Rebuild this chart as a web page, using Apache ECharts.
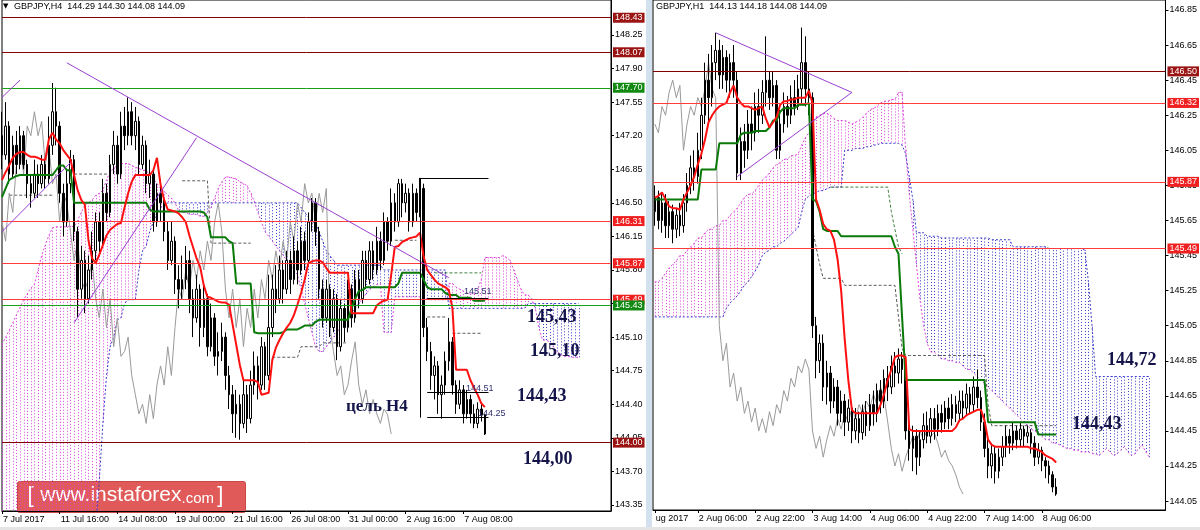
<!DOCTYPE html>
<html>
<head>
<meta charset="utf-8">
<script src="https://cdn.jsdelivr.net/npm/echarts@6/dist/echarts.min.js"></script>
<style>
html, body { margin: 0; padding: 0; background: #fff; }
#chart { width: 1200px; height: 530px; }
</style>
</head>
<body>
<div id="chart"></div>
<script>
// ---------- H4 panel (left) ----------
const leftDates = ['7 Jul 2017', '11 Jul 16:00', '14 Jul 08:00', '19 Jul 00:00', '21 Jul 16:00',
  '26 Jul 08:00', '31 Jul 00:00', '2 Aug 16:00', '7 Aug 08:00'];
const leftTicks = [143.35, 143.70, 144.05, 144.40, 144.75, 145.10, 145.45, 145.80, 146.15, 146.50,
  146.85, 147.20, 147.55, 147.90, 148.25];
// [open, close, low, high]
const leftOhlc = [
  [147.20,147.00,146.85,147.45],[147.00,147.30,146.95,147.55],[147.30,146.80,146.70,147.35],[146.80,147.10,146.75,147.20],
  [147.10,146.90,146.80,147.25],[146.90,147.20,146.85,147.30],[147.20,146.90,146.85,147.25],[146.90,146.70,146.55,146.95],
  [146.70,146.60,146.45,146.80],[146.60,146.80,146.55,146.95],[146.80,146.70,146.55,146.90],[146.70,146.90,146.65,147.00],
  [146.90,146.75,146.65,146.95],[146.75,147.10,146.70,147.40],[147.10,147.45,147.00,147.75],[147.45,147.30,147.10,147.70],
  [147.30,146.60,146.50,147.35],[146.60,146.30,146.15,146.70],[146.30,146.70,146.25,146.85],[146.70,146.95,146.60,147.05],
  [146.95,146.20,146.10,147.00],[146.20,145.60,145.30,146.25],[145.60,145.90,145.50,146.05],[145.90,145.50,145.35,146.00],
  [145.50,145.80,145.45,145.95],[145.80,146.00,145.70,146.20],[146.00,146.30,145.90,146.40],[146.30,146.10,145.95,146.40],
  [146.10,146.60,146.05,146.75],[146.60,146.40,146.30,146.70],[146.40,146.90,146.35,147.00],[146.90,147.10,146.80,147.25],
  [147.10,146.80,146.70,147.20],[146.80,147.30,146.75,147.45],[147.30,147.20,147.05,147.50],[147.20,147.45,147.10,147.60],
  [147.45,147.20,147.10,147.55],[147.20,147.35,147.05,147.50],[147.35,146.90,146.80,147.40],[146.90,147.10,146.85,147.20],
  [147.10,146.70,146.60,147.15],[146.70,146.80,146.55,146.95],[146.80,146.30,146.20,146.85],[146.30,146.60,146.25,146.70],
  [146.60,146.50,146.30,146.75],[146.50,146.20,146.10,146.55],[146.20,145.90,145.80,146.30],[145.90,146.10,145.85,146.30],
  [146.10,145.70,145.55,146.15],[145.70,145.60,145.40,145.85],[145.60,145.70,145.50,145.95],[145.70,145.90,145.60,146.05],
  [145.90,145.50,145.35,146.00],[145.50,145.30,145.10,145.60],[145.30,145.60,145.25,145.75],[145.60,145.20,145.00,145.65],
  [145.20,145.50,145.10,145.65],[145.50,145.00,144.90,145.55],[145.00,145.30,144.95,145.45],[145.30,144.90,144.80,145.35],
  [144.90,144.95,144.70,145.15],[144.95,145.10,144.85,145.25],[145.10,144.70,144.55,145.15],[144.70,144.50,144.35,144.80],
  [144.50,144.30,144.10,144.60],[144.30,144.40,144.05,144.55],[144.40,144.20,144.03,144.50],[144.20,144.50,144.15,144.65],
  [144.50,144.25,144.10,144.60],[144.25,144.60,144.20,144.75],[144.60,144.80,144.50,144.95],[144.80,144.60,144.45,144.90],
  [144.60,145.00,144.55,145.10],[145.00,144.70,144.55,145.05],[144.70,145.20,144.65,145.75],[145.20,145.60,145.10,145.75],
  [145.60,145.50,145.35,145.85],[145.50,145.80,145.45,145.95],[145.80,145.60,145.45,145.90],[145.60,145.90,145.55,146.00],
  [145.90,145.70,145.55,146.00],[145.70,146.00,145.65,146.15],[146.00,145.80,145.65,146.10],[145.80,146.10,145.75,146.25],
  [146.10,145.90,145.80,146.20],[145.90,146.30,145.85,146.40],[146.30,146.50,146.20,146.55],[146.50,146.20,146.05,146.55],
  [146.20,145.60,145.50,146.25],[145.60,145.30,145.20,145.70],[145.30,145.60,145.25,145.70],[145.60,145.20,145.10,145.65],
  [145.20,145.50,145.15,145.60],[145.50,145.00,144.86,145.55],[145.00,145.40,144.95,145.50],[145.40,145.20,145.05,145.45],
  [145.20,145.60,145.15,145.70],[145.60,145.30,145.20,145.65],[145.30,145.70,145.25,145.80],[145.70,145.50,145.40,145.80],
  [145.50,145.90,145.45,146.00],[145.90,145.70,145.60,146.00],[145.70,146.00,145.65,146.10],[146.00,145.80,145.70,146.10],
  [145.80,146.10,145.75,146.25],[146.10,145.90,145.80,146.20],[145.90,146.30,145.85,146.40],[146.30,146.10,146.00,146.35],
  [146.10,146.50,146.05,146.65],[146.50,146.30,146.20,146.60],[146.30,146.70,146.25,146.75],[146.70,146.50,146.35,146.75],
  [146.50,146.60,146.40,146.70],[146.60,146.30,146.20,146.65],[146.30,146.60,146.25,146.70],[146.60,146.40,146.30,146.65],
  [146.40,146.65,146.35,146.76],[146.65,145.20,145.10,146.70],[145.20,144.95,144.85,145.30],[144.95,144.70,144.55,145.05],
  [144.70,144.80,144.45,144.90],[144.80,144.50,144.30,144.85],[144.50,144.60,144.25,144.70],[144.60,144.85,144.50,144.95],
  [144.85,145.05,144.75,145.30],[145.05,144.60,144.50,145.10],[144.60,144.40,144.30,144.65],[144.40,144.55,144.35,144.65],
  [144.55,144.30,144.20,144.60],[144.30,144.45,144.25,144.55],[144.45,144.30,144.20,144.50],[144.30,144.20,144.15,144.40],
  [144.20,144.35,144.15,144.42],[144.35,144.29,144.22,144.40],[144.29,144.09,144.08,144.30]
];
const leftTenkan = [
  146.74,146.82,146.89,146.97,147.01,147.03,147.03,147.00,146.98,146.98,
  146.97,146.95,146.95,147.16,147.23,147.16,147.12,147.05,147.00,146.95,
  146.79,146.63,146.53,146.48,146.11,145.92,145.87,145.96,146.06,146.16,
  146.22,146.25,146.28,146.29,146.45,146.60,146.72,146.79,146.79,146.79,
  146.79,146.79,146.84,146.97,146.69,146.53,146.43,146.42,146.41,146.39,
  146.35,146.30,146.16,146.04,145.92,145.83,145.64,145.52,145.51,145.49,
  145.47,145.46,145.46,145.44,145.23,145.02,144.81,144.65,144.65,144.65,
  144.65,144.63,144.50,144.51,144.52,144.86,144.99,145.07,145.14,145.20,
  145.25,145.33,145.44,145.56,145.70,145.87,145.89,145.90,145.90,145.88,
  145.82,145.77,145.77,145.77,145.77,145.77,145.77,145.35,145.35,145.35,
  145.35,145.35,145.35,145.35,145.43,145.46,145.48,145.49,145.75,146.04,
  146.05,146.09,146.11,146.13,146.14,146.15,146.19,145.94,145.80,145.75,
  145.70,145.66,145.64,145.62,145.59,145.40,144.76,144.76,144.76,144.76,
  144.65,144.57,144.50,144.41,144.37
];
const leftKijun = [
  146.56,146.65,146.74,146.76,146.78,146.79,146.79,146.79,146.79,146.79,
  146.79,146.79,146.79,146.79,146.79,146.84,146.89,146.89,146.84,146.84,
  146.50,146.50,146.50,146.50,146.50,146.50,146.50,146.50,146.50,146.50,
  146.50,146.50,146.50,146.50,146.50,146.50,146.50,146.50,146.50,146.50,
  146.50,146.43,146.41,146.41,146.41,146.41,146.41,146.41,146.41,146.41,
  146.41,146.41,146.41,146.41,146.41,146.41,146.40,146.35,146.14,146.14,
  146.14,146.14,146.14,146.10,146.08,145.66,145.66,145.66,145.66,145.66,
  145.15,145.14,145.14,145.14,145.14,145.14,145.14,145.14,145.15,145.18,
  145.18,145.18,145.18,145.20,145.22,145.22,145.22,145.26,145.28,145.28,
  145.28,145.28,145.28,145.28,145.28,145.28,145.28,145.40,145.50,145.58,
  145.59,145.62,145.62,145.62,145.62,145.62,145.62,145.62,145.62,145.62,
  145.66,145.77,145.77,145.77,145.77,145.77,145.77,145.70,145.62,145.60,
  145.60,145.60,145.60,145.56,145.54,145.54,145.54,145.51,145.51,145.51,
  145.51,145.48,145.48,145.48,145.48
];
const leftSpanA = [
  145.02,145.10,145.17,145.25,145.33,145.41,145.49,145.55,145.61,145.65,
  145.80,145.95,146.06,146.16,146.24,146.25,146.25,146.25,146.25,146.26,
  146.25,146.32,146.40,146.48,146.50,146.53,146.58,146.60,146.63,146.74,
  146.82,146.86,146.89,146.91,146.91,146.91,146.89,146.87,146.86,146.84,
  146.84,146.79,146.75,146.70,146.65,146.62,146.58,146.55,146.50,146.42,
  146.40,146.40,146.38,146.38,146.38,146.36,146.36,146.40,146.45,146.55,
  146.65,146.72,146.77,146.77,146.76,146.75,146.72,146.70,146.68,146.60,
  146.52,146.40,146.30,146.20,146.15,146.10,146.05,146.00,145.95,145.90,
  145.85,145.80,145.75,145.60,145.45,145.30,145.15,145.00,144.95,144.95,
  145.00,145.05,145.10,145.15,145.20,145.25,145.30,145.35,145.40,145.45,
  145.50,145.55,145.60,145.62,145.65,145.66,145.15,145.15,145.15,145.52,
  145.52,145.52,145.52,145.52,145.52,145.52,145.52,145.50,145.50,145.49,
  145.49,145.49,145.49,145.49,145.66,145.66,145.62,145.60,145.58,145.56,
  145.55,145.55,145.60,145.70,145.93,145.93,145.93,145.93,145.93,145.95,
  145.93,145.90,145.80,145.70,145.60,145.54,145.54,145.50,145.40,145.20,
  145.07,145.07,145.05,145.00,144.95,144.92,144.90,144.90,144.89,144.89,
  144.89
];
const leftSpanB = [
  142.90,142.90,142.90,142.90,142.90,142.90,142.90,142.90,142.90,142.90,
  142.90,142.90,142.90,142.90,142.90,142.90,142.90,142.90,142.90,142.90,
  142.90,142.90,142.90,142.90,142.90,142.90,143.10,143.60,144.20,144.70,
  145.00,145.10,145.28,145.30,145.45,145.49,145.49,145.49,145.80,146.00,
  146.05,146.20,146.30,146.40,146.45,146.48,146.50,146.50,146.50,146.50,
  146.50,146.50,146.50,146.50,146.50,146.50,146.50,146.50,146.50,146.50,
  146.50,146.50,146.50,146.50,146.50,146.50,146.50,146.50,146.50,146.50,
  146.50,146.50,146.50,146.50,146.50,146.50,146.50,146.50,146.50,146.50,
  146.50,146.50,146.50,146.45,146.40,146.35,146.30,146.30,146.20,146.10,
  146.00,145.95,145.90,145.85,145.85,145.85,145.85,145.85,145.85,145.85,
  145.85,145.85,145.85,145.85,145.85,145.85,145.80,145.80,145.80,145.80,
  145.80,145.80,145.80,145.80,145.80,145.80,145.80,145.80,145.80,145.80,
  145.80,145.80,145.80,145.80,145.40,145.40,145.40,145.40,145.40,145.40,
  145.40,145.40,145.40,145.40,145.40,145.40,145.40,145.40,145.40,145.40,
  145.40,145.40,145.40,145.40,145.40,145.40,145.45,145.45,145.45,145.45,
  145.45,145.45,145.45,145.45,145.45,145.45,145.45,145.45,145.45,145.45,
  145.45
];
// dashed higher-timeframe lines: [fromIndex, toIndex, price]
const leftDashA = [[2,14,146.58],[20,30,146.80],[50,57,146.73],[58,69,146.08],[75,82,144.89],[83,88,145.00],
  [89,96,145.04],[100,105,145.87],[109,115,146.11],[118,123,145.31],[125,133,145.14]];
const leftDashB = [[120,133,145.77]];
const leftLevels = [148.43, 148.07, 147.70, 146.31, 145.87, 145.49, 145.43, 144.00];
const leftLevelKinds = ['maroon', 'maroon', 'green', 'red', 'red', 'red', 'green', 'maroon'];
const leftLast = 144.09;
// hand-drawn lines: [[index, price], [index, price]]
const leftTrendLines = [
  [[18, 147.96], [124, 145.72]],
  [[0, 146.20], [19, 146.92]],
  [[20, 145.25], [54, 147.18]],
  [[0, 147.60], [5, 147.78]]
];
const leftTargetLines = [
  [[116, 146.76], [135, 146.76]],
  [[116, 146.76], [116, 144.26]],
  [[118, 145.51], [135, 145.51]],
  [[118, 144.52], [135, 144.52]],
  [[118, 144.26], [135, 144.26]]
];

// ---------- H1 panel (right) ----------
const rightDates = ['ug 2017', '2 Aug 06:00', '2 Aug 22:00', '3 Aug 14:00', '4 Aug 06:00',
  '4 Aug 22:00', '7 Aug 14:00', '8 Aug 06:00'];
const rightDateIdx = [0, 12, 28, 44, 60, 76, 92, 108];
const rightTicks = [144.05, 144.25, 144.45, 144.65, 144.85, 145.05, 145.25, 145.45, 145.65, 145.85,
  146.05, 146.25, 146.45, 146.65, 146.85];
const rightOhlc = [
  [145.70,145.78,145.62,145.85],[145.78,145.65,145.60,145.82],[145.65,145.75,145.58,145.80],[145.75,145.62,145.55,145.80],
  [145.62,145.70,145.55,145.76],[145.70,145.60,145.52,145.74],[145.60,145.68,145.55,145.72],[145.68,145.62,145.56,145.75],
  [145.62,145.75,145.58,145.80],[145.75,145.85,145.70,145.92],[145.85,145.95,145.80,146.02],[145.95,145.90,145.82,146.05],
  [145.90,146.05,145.86,146.15],[146.05,146.25,146.00,146.35],[146.25,146.45,146.20,146.55],[146.45,146.35,146.20,146.60],
  [146.35,146.55,146.30,146.65],[146.55,146.62,146.45,146.72],[146.62,146.48,146.40,146.68],[146.48,146.58,146.40,146.65],
  [146.58,146.45,146.38,146.62],[146.45,146.55,146.35,146.60],[146.55,146.45,146.35,146.65],[146.45,145.92,145.88,146.50],
  [145.92,146.10,145.88,146.18],[146.10,146.05,145.95,146.20],[146.05,146.20,146.00,146.28],[146.20,146.15,146.05,146.30],
  [146.15,146.30,146.10,146.38],[146.30,146.25,146.15,146.40],[146.25,146.38,146.20,146.45],[146.38,146.45,146.30,146.70],
  [146.45,146.35,146.28,146.50],[146.35,146.42,146.30,146.50],[146.42,146.05,146.00,146.45],[146.05,146.20,146.00,146.28],
  [146.20,146.30,146.15,146.38],[146.30,146.25,146.18,146.36],[146.25,146.35,146.20,146.42],[146.35,146.30,146.25,146.45],
  [146.30,146.40,146.28,146.48],[146.40,146.55,146.32,146.75],[146.55,146.40,146.30,146.70],[146.40,146.35,146.25,146.50],
  [146.35,145.05,144.98,146.38],[145.05,144.85,144.75,145.10],[144.85,144.95,144.78,145.00],[144.95,144.70,144.62,145.00],
  [144.70,144.78,144.60,144.85],[144.78,144.62,144.55,144.82],[144.62,144.70,144.58,144.75],[144.70,144.55,144.48,144.74],
  [144.55,144.62,144.50,144.68],[144.62,144.50,144.42,144.66],[144.50,144.58,144.45,144.63],[144.58,144.45,144.38,144.62],
  [144.45,144.52,144.40,144.58],[144.52,144.44,144.38,144.56],[144.44,144.56,144.40,144.60],[144.56,144.48,144.42,144.62],
  [144.48,144.60,144.45,144.66],[144.60,144.55,144.48,144.68],[144.55,144.68,144.50,144.72],[144.68,144.62,144.55,144.74],
  [144.62,144.75,144.58,144.80],[144.75,144.70,144.62,144.82],[144.70,144.82,144.66,144.88],[144.82,144.78,144.70,144.90],
  [144.78,144.86,144.72,144.92],[144.86,144.80,144.72,144.90],[144.80,144.45,144.40,144.85],[144.45,144.35,144.28,144.52],
  [144.35,144.42,144.22,144.48],[144.42,144.30,144.20,144.46],[144.30,144.40,144.25,144.45],[144.40,144.48,144.35,144.55],
  [144.48,144.42,144.38,144.56],[144.42,144.52,144.38,144.58],[144.52,144.46,144.40,144.58],[144.46,144.55,144.42,144.60],
  [144.55,144.50,144.44,144.60],[144.50,144.58,144.46,144.62],[144.58,144.52,144.46,144.64],[144.52,144.60,144.48,144.66],
  [144.60,144.55,144.50,144.65],[144.55,144.62,144.50,144.68],[144.62,144.58,144.52,144.68],[144.58,144.66,144.54,144.72],
  [144.66,144.60,144.55,144.70],[144.60,144.70,144.56,144.76],[144.70,144.64,144.58,144.80],[144.64,144.50,144.45,144.68],
  [144.50,144.35,144.30,144.55],[144.35,144.25,144.18,144.40],[144.25,144.32,144.18,144.38],[144.32,144.22,144.15,144.36],
  [144.22,144.30,144.18,144.35],[144.30,144.36,144.25,144.42],[144.36,144.42,144.30,144.48],[144.42,144.38,144.32,144.46],
  [144.38,144.45,144.34,144.50],[144.45,144.40,144.35,144.48],[144.40,144.46,144.36,144.50],[144.46,144.42,144.36,144.48],
  [144.42,144.44,144.38,144.48],[144.44,144.38,144.32,144.46],[144.38,144.30,144.25,144.42],[144.30,144.34,144.26,144.38],
  [144.34,144.28,144.22,144.36],[144.28,144.25,144.18,144.30],[144.25,144.20,144.15,144.28],[144.20,144.13,144.10,144.22],
  [144.13,144.09,144.08,144.18]
];
const rightTenkan = [
  145.78,145.79,145.81,145.77,145.73,145.72,145.72,145.71,145.77,145.81,
  145.85,145.90,145.97,146.03,146.11,146.21,146.25,146.28,146.30,146.31,
  146.32,146.38,146.42,146.35,146.32,146.30,146.30,146.29,146.28,146.29,
  146.30,146.23,146.18,146.21,146.24,146.31,146.33,146.33,146.34,146.34,
  146.35,146.35,146.35,146.39,146.32,145.77,145.71,145.63,145.60,145.59,
  145.54,145.43,145.25,144.97,144.74,144.57,144.55,144.55,144.55,144.55,
  144.55,144.55,144.55,144.60,144.66,144.74,144.80,144.87,144.88,144.88,
  144.87,144.46,144.45,144.45,144.45,144.45,144.45,144.45,144.45,144.45,
  144.45,144.45,144.45,144.45,144.47,144.51,144.52,144.54,144.55,144.56,
  144.57,144.57,144.51,144.40,144.37,144.36,144.36,144.36,144.36,144.36,
  144.36,144.36,144.36,144.36,144.36,144.35,144.35,144.34,144.33,144.31,
  144.30,144.29,144.27
];
const rightKijun = [
  145.77,145.77,145.77,145.77,145.77,145.77,145.77,145.77,145.77,145.77,
  145.77,145.77,145.77,145.94,145.94,145.94,145.94,145.94,146.09,146.09,
  146.09,146.09,146.09,146.09,146.14,146.15,146.15,146.15,146.16,146.16,
  146.16,146.16,146.18,146.22,146.22,146.27,146.29,146.29,146.29,146.29,
  146.31,146.31,146.31,146.32,145.77,145.76,145.70,145.60,145.59,145.59,
  145.59,145.59,145.56,145.56,145.56,145.56,145.56,145.56,145.56,145.56,
  145.56,145.56,145.56,145.56,145.56,145.56,145.56,145.50,145.46,145.10,
  144.74,144.74,144.74,144.74,144.74,144.74,144.74,144.74,144.74,144.74,
  144.74,144.74,144.74,144.74,144.74,144.74,144.74,144.74,144.74,144.74,
  144.74,144.74,144.74,144.50,144.50,144.50,144.50,144.50,144.50,144.50,
  144.50,144.50,144.50,144.50,144.50,144.50,144.50,144.43,144.43,144.43,
  144.43,144.43,144.43
];
const rightSpanA = [
  145.30,145.30,145.32,145.35,145.38,145.40,145.42,145.45,145.45,145.48,
  145.50,145.52,145.55,145.55,145.58,145.60,145.60,145.62,145.62,145.65,
  145.65,145.68,145.70,145.72,145.75,145.78,145.80,145.80,145.82,145.85,
  145.88,145.90,145.92,145.95,145.97,145.98,146.00,146.00,146.02,146.02,
  146.03,146.08,146.12,146.15,146.20,146.24,146.25,146.26,146.26,146.25,
  146.23,146.22,146.22,146.22,146.21,146.20,146.21,146.22,146.24,146.26,
  146.28,146.29,146.30,146.32,146.33,146.33,146.34,146.34,146.38,146.38,
  146.05,145.80,145.60,145.40,145.20,145.05,144.95,144.90,144.90,144.88,
  144.86,144.86,144.85,144.85,144.84,144.84,144.82,144.80,144.80,144.78,
  144.76,144.74,144.72,144.70,144.68,144.66,144.64,144.62,144.60,144.58,
  144.56,144.54,144.52,144.50,144.48,144.46,144.45,144.44,144.42,144.40,
  144.40,144.38,144.38,144.37,144.36,144.35,144.35,144.34,144.34,144.33,
  144.33,144.33,144.32,144.32,144.31,144.33,144.35,144.33,144.31,144.32,
  144.34,144.36,144.33,144.31,144.32,144.35,144.37,144.33,144.30
];
const rightSpanB = [
  145.10,145.10,145.10,145.10,145.10,145.10,145.10,145.10,145.10,145.10,
  145.10,145.10,145.10,145.10,145.10,145.10,145.10,145.10,145.10,145.10,
  145.15,145.18,145.20,145.22,145.25,145.28,145.30,145.33,145.36,145.40,
  145.45,145.47,145.48,145.50,145.50,145.52,145.53,145.55,145.57,145.59,
  145.61,145.70,145.77,145.79,145.80,145.81,145.82,145.82,145.83,145.84,
  145.84,145.84,145.84,146.05,146.05,146.05,146.06,146.06,146.06,146.07,
  146.07,146.08,146.08,146.09,146.09,146.09,146.09,146.09,146.09,146.08,
  146.03,145.90,145.77,145.58,145.58,145.58,145.56,145.56,145.56,145.56,
  145.55,145.55,145.55,145.55,145.55,145.55,145.55,145.55,145.55,145.55,
  145.55,145.55,145.55,145.55,145.54,145.54,145.54,145.54,145.54,145.54,
  145.50,145.50,145.50,145.50,145.50,145.50,145.50,145.50,145.50,145.50,
  145.49,145.49,145.49,145.49,145.49,145.49,145.49,145.49,145.49,145.49,
  145.48,145.30,145.05,144.76,144.76,144.76,144.76,144.76,144.76,144.76,
  144.76,144.76,144.76,144.76,144.76,144.76,144.76,144.76,144.76
];
const rightDashA = [[44,44,145.60],[45,45,145.50],[46,46,145.40],[47,52,145.32],[53,67,145.28],[68,68,145.10],
  [69,69,144.92],[70,92,144.88],[93,93,144.60],[94,112,144.48]];
const rightDashB = [[49,65,145.84],[66,66,145.70],[67,67,145.60],[68,68,145.50],[69,69,145.46]];
const rightLevels = [146.50, 146.32, 145.87, 145.49];
const rightLevelKinds = ['maroon', 'red', 'red', 'red'];
const rightLast = 144.09;
const rightTrendLines = [
  [[17, 146.72], [55, 146.38]],
  [[23, 145.90], [55, 146.38]]
];

// ---------- build ----------
const LEFT_N = 170, RIGHT_N = 143, SHIFT = 26;
const leftCats = [];
for (let i = 0; i < LEFT_N; i++) leftCats.push(i % 16 === 0 && leftDates[i / 16] ? leftDates[i / 16] : '');
const rightCats = [];
for (let i = 0; i < RIGHT_N; i++) {
  const k = rightDateIdx.indexOf(i);
  rightCats.push(k >= 0 ? rightDates[k] : '');
}

function chikou(ohlc) {
  // close plotted 26 bars back
  return ohlc.slice(SHIFT).map(c => c[1]);
}
function steps(segs, n) {
  const out = new Array(n).fill(null);
  segs.forEach(([a, b, v]) => { for (let i = a; i <= b; i++) out[i] = v; });
  return out;
}

const PINK = '#dd44dd', BLUE = '#3a3ac8';

// kumo drawn like MT4: one dotted vertical stroke per bar between span A and span B
function cloud(idx, spanA, spanB) {
  return {
    type: 'custom', xAxisIndex: idx, yAxisIndex: idx, silent: true, animation: false, z: 1,
    data: spanA.map((a, i) => [i, a, spanB[i]]),
    encode: { x: 0, y: [1, 2] },
    renderItem: (params, api) => {
      const a = api.value(1), b = api.value(2);
      const pa = api.coord([api.value(0), a]);
      const pb = api.coord([api.value(0), b]);
      const cs = params.coordSys;
      const cl = y => Math.max(cs.y, Math.min(cs.y + cs.height, y));
      const x = Math.round(pa[0]) + 0.5;
      return {
        type: 'line',
        shape: { x1: x, y1: cl(pa[1]), x2: x, y2: cl(pb[1]) },
        style: { stroke: a >= b ? PINK : BLUE, lineWidth: 1, lineDash: [1, 2] }
      };
    }
  };
}

const levelStyle = {
  maroon: { line: '#800000', bg: '#9b1414' },
  red: { line: '#ff3b3b', bg: '#f02020' },
  green: { line: '#19a019', bg: '#128a12' }
};

function levelLines(levels, kinds, last) {
  const data = levels.map((v, i) => ({
    yAxis: v,
    lineStyle: { color: levelStyle[kinds[i]].line, width: 1, type: 'solid' },
    label: { backgroundColor: levelStyle[kinds[i]].bg }
  }));
  data.push({ yAxis: last, lineStyle: { opacity: 0 }, label: { backgroundColor: '#000' } });
  return {
    silent: true, symbol: ['none', 'none'], animation: false, precision: 2,
    label: {
      position: 'end', distance: 2, color: '#fff', fontSize: 9, fontFamily: 'Liberation Sans',
      padding: [1, 2, 0, 2], formatter: p => p.value.toFixed(2)
    },
    data
  };
}

function ichimoku(idx, n, ohlc, tenkan, kijun, spanA, spanB, dashA, dashB, levels, kinds, last, trend, extra) {
  const common = { xAxisIndex: idx, yAxisIndex: idx, showSymbol: false, symbol: 'none', silent: true, animation: false };
  const out = [
    cloud(idx, spanA, spanB),
    Object.assign({ type: 'line', data: spanA, lineStyle: { color: PINK, width: 1, type: [2, 2] }, z: 2 }, common),
    Object.assign({ type: 'line', data: spanB, lineStyle: { color: BLUE, width: 1, type: [2, 2] }, z: 2 }, common),
    Object.assign({ type: 'line', data: steps(dashA, n), lineStyle: { color: '#5a5a5a', width: 1, type: [3, 2] }, z: 2 }, common),
    Object.assign({ type: 'line', data: steps(dashB, n), lineStyle: { color: '#3f7f3f', width: 1, type: [3, 2] }, z: 2 }, common),
    Object.assign({ type: 'line', data: chikou(ohlc), lineStyle: { color: '#9a9a9a', width: 1 }, z: 2 }, common),
    {
      type: 'candlestick', xAxisIndex: idx, yAxisIndex: idx, data: ohlc, barWidth: 2, silent: true, animation: false, z: 3,
      itemStyle: { color: '#ffffff', color0: '#000000', borderColor: '#000000', borderColor0: '#000000', borderWidth: 1 },
      markLine: levelLines(levels, kinds, last)
    },
    Object.assign({ type: 'line', data: kijun, lineStyle: { color: '#0a7a0a', width: 2 }, z: 4 }, common),
    Object.assign({ type: 'line', data: tenkan, lineStyle: { color: '#ff1010', width: 2 }, z: 4 }, common),
    {
      type: 'lines', coordinateSystem: 'cartesian2d', xAxisIndex: idx, yAxisIndex: idx, silent: true, animation: false, z: 5,
      lineStyle: { color: '#9b3fd0', width: 1, opacity: 1 },
      data: trend.map(c => ({ coords: c }))
    }
  ];
  if (extra) {
    out.push({
      type: 'lines', coordinateSystem: 'cartesian2d', xAxisIndex: idx, yAxisIndex: idx, silent: true, animation: false, z: 5,
      lineStyle: { color: '#000', width: 1, opacity: 1 },
      data: extra.map(c => ({ coords: c }))
    });
  }
  return out;
}

function yAxis(idx, min, max, ticks) {
  return {
    gridIndex: idx, type: 'value', position: 'right', min, max, scale: true,
    axisLine: { show: true, lineStyle: { color: '#000' } },
    axisTick: { show: true, length: 3, customValues: ticks, lineStyle: { color: '#000' } },
    axisLabel: { customValues: ticks, fontSize: 9, fontFamily: 'Liberation Sans', color: '#000', margin: 4, formatter: v => v.toFixed(2) },
    splitLine: { show: false }
  };
}
function xAxis(idx, cats, gap) {
  return {
    gridIndex: idx, type: 'category', data: cats, boundaryGap: gap,
    axisLine: { show: true, lineStyle: { color: '#000' } },
    axisTick: { show: true, length: 3, alignWithLabel: true, interval: i => cats[i] !== '', lineStyle: { color: '#000' } },
    axisLabel: { interval: 0, fontSize: 9, fontFamily: 'Liberation Sans', color: '#000', align: 'left', margin: 4, padding: [0, 0, 0, 1] },
    splitLine: { show: false }
  };
}

const annot = { fontFamily: 'Liberation Serif', fontWeight: 'bold', fontSize: 18, fill: '#14144a' };
function txt(x, y, s, st) {
  return { type: 'text', left: x, top: y, z: 100, style: Object.assign({ text: s }, st) };
}
const small = { fontFamily: 'Liberation Sans', fontSize: 9, fill: '#303070' };
const head = { fontFamily: 'Liberation Sans', fontSize: 9, fill: '#000' };

const chart = echarts.init(document.getElementById('chart'), null, { renderer: 'canvas' });
chart.setOption({
  animation: false,
  backgroundColor: '#fff',
  grid: [
    { left: 1, top: 0, width: 610, height: 511, show: true, borderColor: '#000', borderWidth: 1, backgroundColor: '#fff' },
    { left: 653, top: 0, width: 514.8, height: 510, show: true, borderColor: '#000', borderWidth: 1, backgroundColor: '#fff' }
  ],
  xAxis: [xAxis(0, leftCats, false), xAxis(1, rightCats, true)],
  yAxis: [yAxis(0, 143.287, 148.615, leftTicks), yAxis(1, 143.999, 146.907, rightTicks)],
  series: [].concat(
    ichimoku(0, leftOhlc.length, leftOhlc, leftTenkan, leftKijun, leftSpanA, leftSpanB, leftDashA, leftDashB,
      leftLevels, leftLevelKinds, leftLast, leftTrendLines, leftTargetLines),
    ichimoku(1, rightOhlc.length, rightOhlc, rightTenkan, rightKijun, rightSpanA, rightSpanB, rightDashA, rightDashB,
      rightLevels, rightLevelKinds, rightLast, rightTrendLines, null)
  ),
  graphic: [
    { type: 'rect', left: 646, top: 0, z: 90, shape: { width: 6, height: 530 }, style: { fill: '#d3e1ee' } },
    { type: 'rect', left: 0, top: 527, z: 90, shape: { width: 1200, height: 3 }, style: { fill: '#e4e4e4' } },
    txt(3, 3, '\u25BC', { fontFamily: 'DejaVu Sans', fontSize: 7, fill: '#000' }),
    txt(14, 2, 'GBPJPY,H4  144.29 144.30 144.08 144.09', head),
    txt(656, 2, 'GBPJPY,H1  144.13 144.18 144.08 144.09', head),
    txt(527, 308, '145,43', annot),
    txt(530, 342, '145,10', annot),
    txt(517, 387, '144,43', annot),
    txt(523, 450, '144,00', annot),
    txt(346, 398, 'цель H4', Object.assign({}, annot, { fontSize: 17 })),
    txt(1107, 351, '144,72', annot),
    txt(1072, 415, '144,43', annot),
    txt(464, 287, '145.51', small),
    txt(466, 384, '144.51', small),
    txt(478, 409, '144.25', small),
    {
      type: 'group', left: 17, top: 481, z: 110,
      children: [
        { type: 'rect', shape: { x: 0, y: 0, width: 228, height: 31, r: 2 }, style: { fill: '#e05a5a', stroke: '#c84848', lineWidth: 1 } },
        {
          type: 'text', left: 10, top: 3,
          style: {
            text: '{b|[}  {w|www.instaforex}{c|.com} {b|]}',
            rich: {
              b: { fontFamily: 'Liberation Sans', fontSize: 22, fill: '#fff' },
              w: { fontFamily: 'Liberation Sans', fontSize: 21, fill: '#fff' },
              c: { fontFamily: 'Liberation Sans', fontSize: 15, fill: '#fff', padding: [6, 0, 0, 0] }
            }
          }
        }
      ]
    }
  ]
});
</script>
</body>
</html>
